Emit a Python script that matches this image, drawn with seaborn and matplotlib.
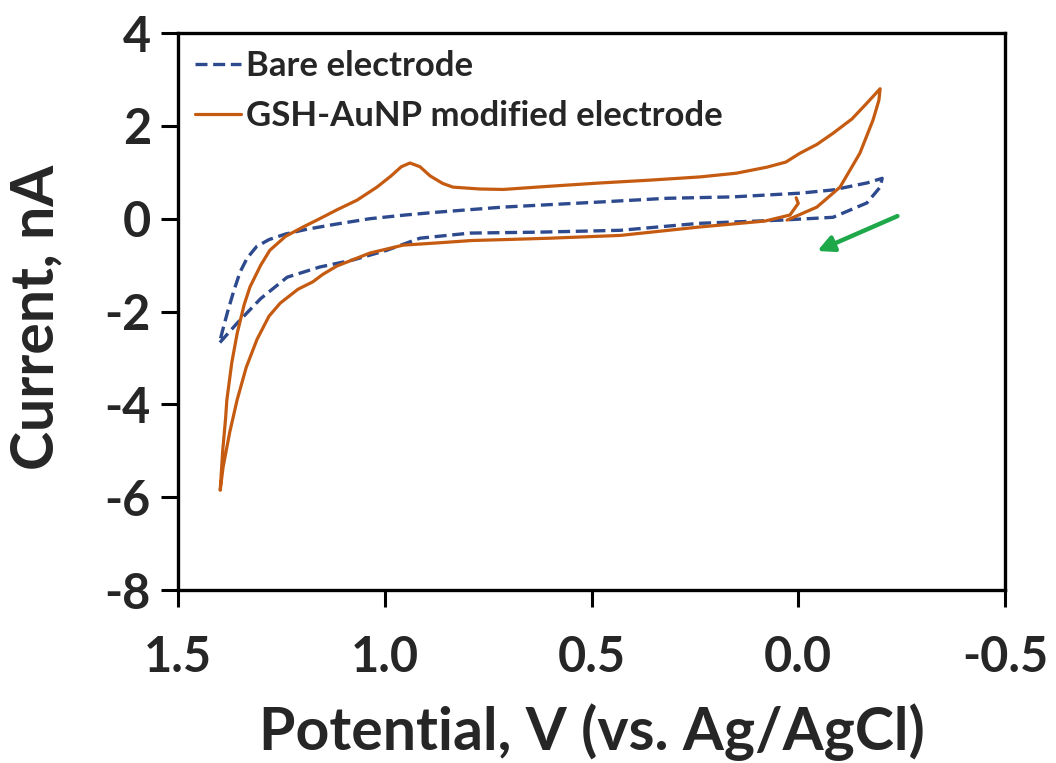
"""Cyclic voltammograms: bare vs GSH-AuNP modified electrode"""

import pandas as pd
import seaborn as sns
import matplotlib.pyplot as plt

# bare electrode (V, nA), one loop
bare_v = [0.04, 0.24, 0.43, 0.63, 0.794, 0.915, 0.995, 1.077, 1.157, 1.236, 1.30, 1.357, 1.40,
          1.392, 1.38, 1.365, 1.35, 1.333, 1.31, 1.28, 1.24, 1.19, 1.12, 1.036, 0.95, 0.874,
          0.714, 0.479, 0.317, 0.158, -0.004, -0.084, -0.166, -0.203,
          -0.198, -0.166, -0.084, 0.04]
bare_i = [-0.03, -0.10, -0.25, -0.29, -0.31, -0.42, -0.68, -0.89, -1.04, -1.26, -1.72, -2.25, -2.68,
          -2.40, -2.00, -1.55, -1.15, -0.85, -0.60, -0.45, -0.33, -0.23, -0.12, 0.0, 0.08, 0.14,
          0.25, 0.36, 0.44, 0.47, 0.55, 0.62, 0.77, 0.87,
          0.68, 0.34, 0.03, -0.03]

# GSH-AuNP modified electrode (V, nA), one loop
mod_v = [0.005, 0.0, 0.02, 0.08, 0.24, 0.43, 0.60, 0.71, 0.79, 0.87, 0.956, 1.036, 1.116, 1.15,
         1.174, 1.21, 1.253, 1.28, 1.309, 1.335, 1.357, 1.375, 1.391, 1.398,
         1.392, 1.385, 1.382, 1.37, 1.357, 1.34, 1.326, 1.30, 1.278, 1.24, 1.198, 1.164, 1.116,
         1.067, 1.019, 0.985, 0.96, 0.939, 0.915, 0.89, 0.86, 0.835, 0.77, 0.714, 0.60, 0.479,
         0.36, 0.238, 0.15, 0.076, 0.03, -0.004, -0.045, -0.084, -0.13, -0.166, -0.198,
         -0.195, -0.181, -0.149, -0.101, -0.045, 0.027]
mod_i = [0.45, 0.33, 0.08, -0.05, -0.18, -0.36, -0.42, -0.45, -0.47, -0.52, -0.57, -0.74, -1.02, -1.2,
         -1.36, -1.52, -1.82, -2.1, -2.6, -3.2, -3.9, -4.6, -5.35, -5.85,
         -5.0, -4.3, -3.91, -3.1, -2.47, -1.85, -1.47, -1.0, -0.68, -0.38, -0.18, -0.03, 0.19,
         0.40, 0.68, 0.92, 1.12, 1.20, 1.12, 0.92, 0.76, 0.68, 0.64, 0.63, 0.70, 0.77,
         0.83, 0.90, 0.98, 1.11, 1.22, 1.41, 1.60, 1.84, 2.15, 2.49, 2.80,
         2.55, 2.13, 1.41, 0.68, 0.25, -0.03]

labels = ['Bare electrode', 'GSH-AuNP modified electrode']

# scan direction arrow (tail, head)
arrow_tail = (-0.246, 0.08)
arrow_head = (-0.04, -0.72)

sns.set_style('white')
plt.rcParams['font.family'] = ['Lato', 'DejaVu Sans']
plt.rcParams['font.weight'] = 'bold'
plt.rcParams['axes.unicode_minus'] = False

fig = plt.figure(figsize=(10.56, 7.63), dpi=100)
ax = fig.add_axes([0.1686, 0.2267, 0.7831, 0.73])

bare_df = pd.DataFrame({'V': bare_v, 'I': bare_i})
mod_df = pd.DataFrame({'V': mod_v, 'I': mod_i})

sns.lineplot(data=bare_df, x='V', y='I', sort=False, estimator=None, ax=ax,
             color='#2E4A8E', lw=2.4, dashes=False, linestyle=(0, (3.6, 1.7)), label=labels[0])
sns.lineplot(data=mod_df, x='V', y='I', sort=False, estimator=None, ax=ax,
             color='#C55A11', lw=2.3, label=labels[1])

ax.annotate('', xy=arrow_head, xytext=arrow_tail,
            arrowprops=dict(arrowstyle='-|>', color='#1FA84A', lw=3.2, mutation_scale=24))

ax.set_xlim(1.5, -0.5)
ax.set_ylim(-8, 4)
ax.set_xticks([1.5, 1.0, 0.5, 0.0, -0.5])
ax.set_xticklabels(['1.5', '1.0', '0.5', '0.0', '-0.5'])
ax.set_yticks([-8, -6, -4, -2, 0, 2, 4])
ax.tick_params(axis='both', direction='out', length=12.5, width=2.2, labelsize=35, color='black',
               bottom=True, left=True)
ax.tick_params(axis='x', pad=20)
ax.tick_params(axis='y', pad=7)
for sp in ax.spines.values():
    sp.set_visible(True)
    sp.set_color('black')
    sp.set_linewidth(2.4)

ax.set_xlabel('Potential, V (vs. Ag/AgCl)', fontsize=42.5, fontweight='bold', labelpad=17)
ax.set_ylabel('Current, nA', fontsize=42.5, fontweight='bold')
ax.yaxis.set_label_coords(-0.138, 0.49)

leg = ax.legend(loc='upper left', bbox_to_anchor=(0.0, 1.0), frameon=False, fontsize=25,
                handlelength=1.3, handletextpad=0.15, borderaxespad=0.0, borderpad=0.5,
                labelspacing=0.5)
for t in leg.get_texts():
    t.set_fontweight('bold')

fig.savefig('out.png', dpi=100)
